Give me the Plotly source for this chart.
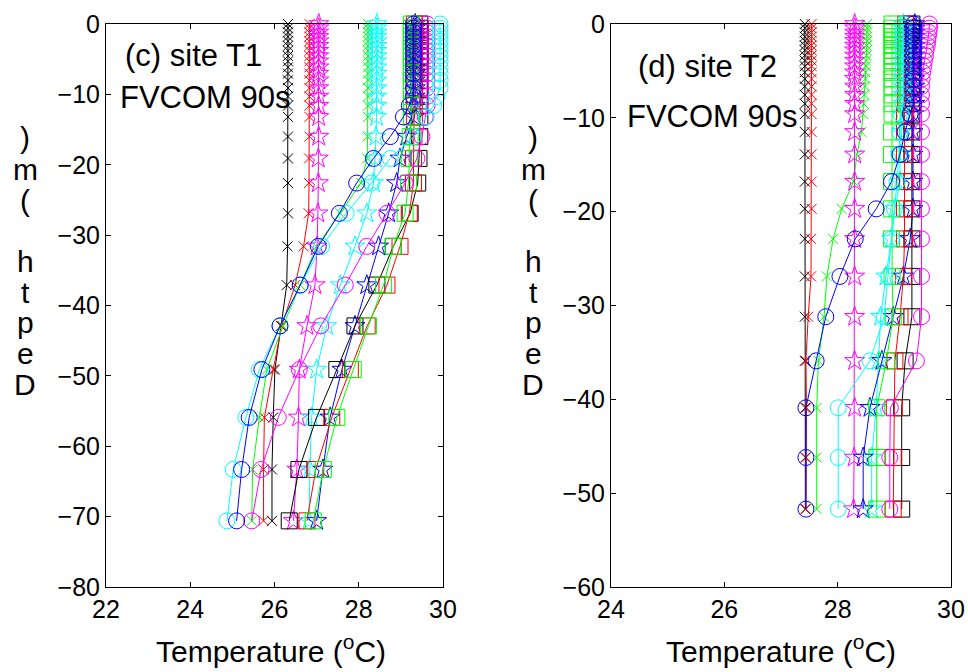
import plotly.graph_objects as go

# ---- depth levels (m) of the model sigma layers at each site ----
DEPTH_T1 = [0.0, -0.6, -1.2, -1.8, -2.45, -3.1, -3.8, -4.55, -5.3, -6.15, -7.05, -8.0, -9.1, -10.3, -11.6,
            -13.2, -16.0, -19.1, -22.6, -26.9, -31.6, -37.1, -42.9, -49.1, -55.9, -63.3, -70.6]
DEPTH_T2 = [0.0, -0.45, -0.9, -1.35, -1.8, -2.3, -2.8, -3.35, -3.9, -4.5, -5.15, -5.85, -6.65, -7.55, -8.5,
            -9.6, -11.5, -13.9, -16.8, -19.7, -22.9, -26.9, -31.2, -35.9, -40.9, -46.2, -51.7]

# ---- temperature profiles (degC), site T1 ----
T1_K_X = [26.32, 26.32, 26.32, 26.32, 26.32, 26.32, 26.32, 26.32, 26.32, 26.32, 26.32, 26.32, 26.32, 26.32, 26.32,
          26.32, 26.32, 26.32, 26.32, 26.32, 26.31, 26.29, 26.15, 26.01, 25.97, 25.94, 25.94]
T1_R_X = [26.83, 26.83, 26.83, 26.83, 26.83, 26.83, 26.83, 26.83, 26.83, 26.83, 26.83, 26.83, 26.83, 26.83, 26.83,
          26.83, 26.83, 26.82, 26.82, 26.81, 26.69, 26.49, 26.17, 25.97, 25.76, 25.74, 25.74]
T1_G_X = [28.22, 28.22, 28.22, 28.22, 28.22, 28.22, 28.22, 28.22, 28.22, 28.22, 28.22, 28.22, 28.22, 28.22, 28.22,
          28.22, 28.21, 28.20, 28.05, 27.56, 27.00, 26.61, 26.20, 25.82, 25.64, 25.48, 25.46]
T1_M_STAR = [27.05, 27.05, 27.05, 27.05, 27.05, 27.05, 27.05, 27.05, 27.05, 27.05, 27.05, 27.05, 27.05, 27.05, 27.05,
             27.05, 27.05, 27.04, 27.04, 27.03, 27.01, 26.96, 26.77, 26.59, 26.57, 26.53, 26.45]
T1_C_STAR = [28.43, 28.43, 28.43, 28.43, 28.43, 28.43, 28.43, 28.43, 28.43, 28.43, 28.43, 28.43, 28.43, 28.43, 28.43,
             28.42, 28.41, 28.39, 28.35, 28.19, 27.91, 27.56, 27.24, 27.00, 26.88, 26.84, 26.82]
T1_B_STAR = [29.34, 29.34, 29.34, 29.34, 29.34, 29.34, 29.34, 29.34, 29.34, 29.34, 29.34, 29.34, 29.34, 29.34, 29.34,
             29.32, 29.14, 28.98, 28.90, 28.71, 28.47, 28.19, 27.91, 27.60, 27.32, 27.15, 27.00]
T1_K_SQ = [29.45, 29.45, 29.45, 29.45, 29.45, 29.45, 29.45, 29.45, 29.45, 29.45, 29.45, 29.45, 29.45, 29.45, 29.45,
           29.45, 29.45, 29.43, 29.40, 29.22, 28.82, 28.43, 27.91, 27.48, 27.00, 26.58, 26.35]
T1_R_SQ = [29.32, 29.32, 29.32, 29.32, 29.32, 29.32, 29.32, 29.32, 29.32, 29.32, 29.32, 29.32, 29.32, 29.32, 29.32,
           29.32, 29.31, 29.30, 29.30, 29.20, 28.98, 28.67, 28.20, 27.80, 27.36, 26.98, 26.77]
T1_G_SQ = [29.25, 29.25, 29.25, 29.25, 29.25, 29.25, 29.25, 29.25, 29.25, 29.25, 29.25, 29.25, 29.25, 29.25, 29.25,
           29.25, 29.22, 29.20, 29.18, 29.10, 28.82, 28.59, 28.23, 27.87, 27.48, 27.16, 26.92]
T1_M_CIRC = [29.62, 29.62, 29.62, 29.62, 29.62, 29.62, 29.62, 29.62, 29.62, 29.62, 29.62, 29.62, 29.62, 29.62, 29.62,
             29.58, 29.50, 29.38, 29.10, 28.67, 28.19, 27.68, 27.10, 26.59, 26.09, 25.68, 25.46]
T1_C_CIRC = [29.93, 29.93, 29.93, 29.93, 29.93, 29.93, 29.93, 29.93, 29.93, 29.93, 29.93, 29.93, 29.93, 29.85, 29.78,
             29.60, 29.30, 28.75, 28.30, 27.70, 27.12, 26.61, 26.13, 25.64, 25.32, 25.02, 24.87]
T1_B_CIRC = [29.30, 29.30, 29.30, 29.30, 29.30, 29.30, 29.30, 29.30, 29.30, 29.30, 29.30, 29.30, 29.30, 29.30, 29.20,
             29.06, 28.75, 28.35, 27.95, 27.54, 27.04, 26.61, 26.13, 25.70, 25.40, 25.22, 25.10]

# ---- temperature profiles (degC), site T2 ----
T2_K_X = [27.42, 27.42, 27.42, 27.42, 27.42, 27.42, 27.42, 27.42, 27.42, 27.42, 27.42, 27.42, 27.42, 27.42, 27.42,
          27.42, 27.42, 27.42, 27.42, 27.42, 27.42, 27.42, 27.42, 27.42, 27.43, 27.43, 27.43]
T2_R_X = [27.54, 27.54, 27.54, 27.54, 27.54, 27.54, 27.54, 27.54, 27.54, 27.54, 27.54, 27.54, 27.54, 27.54, 27.54,
          27.54, 27.54, 27.54, 27.54, 27.54, 27.53, 27.53, 27.48, 27.44, 27.45, 27.44, 27.44]
T2_G_X = [28.52, 28.52, 28.52, 28.52, 28.52, 28.51, 28.51, 28.51, 28.50, 28.50, 28.49, 28.49, 28.48, 28.47, 28.46,
          28.45, 28.42, 28.34, 28.28, 28.07, 27.92, 27.81, 27.76, 27.66, 27.63, 27.63, 27.63]
T2_M_STAR = [28.30, 28.30, 28.30, 28.30, 28.30, 28.30, 28.30, 28.30, 28.30, 28.30, 28.30, 28.30, 28.30, 28.30, 28.30,
             28.30, 28.30, 28.30, 28.30, 28.30, 28.30, 28.30, 28.30, 28.30, 28.30, 28.29, 28.28]
T2_C_STAR = [29.16, 29.16, 29.16, 29.16, 29.16, 29.16, 29.16, 29.16, 29.16, 29.16, 29.16, 29.16, 29.16, 29.16, 29.16,
             29.13, 29.13, 29.10, 29.10, 29.01, 28.95, 28.85, 28.76, 28.72, 28.68, 28.60, 28.60]
T2_B_STAR = [29.36, 29.36, 29.36, 29.36, 29.36, 29.36, 29.36, 29.36, 29.36, 29.36, 29.36, 29.36, 29.36, 29.36, 29.36,
             29.34, 29.33, 29.33, 29.33, 29.33, 29.28, 29.16, 28.98, 28.78, 28.57, 28.45, 28.45]
T2_K_SQ = [29.31, 29.31, 29.31, 29.31, 29.31, 29.31, 29.31, 29.31, 29.31, 29.31, 29.31, 29.31, 29.31, 29.31, 29.31,
           29.31, 29.31, 29.31, 29.31, 29.31, 29.31, 29.31, 29.31, 29.19, 29.13, 29.13, 29.13]
T2_R_SQ = [29.20, 29.20, 29.20, 29.20, 29.20, 29.20, 29.20, 29.20, 29.20, 29.20, 29.20, 29.20, 29.20, 29.20, 29.20,
           29.18, 29.18, 29.18, 29.18, 29.18, 29.18, 29.16, 29.10, 29.01, 29.00, 28.98, 28.98]
T2_G_SQ = [28.96, 28.96, 28.96, 28.96, 28.96, 28.96, 28.96, 28.96, 28.96, 28.96, 28.96, 28.96, 28.96, 28.96, 28.96,
           28.96, 28.95, 28.95, 28.95, 28.95, 28.95, 28.96, 28.98, 28.86, 28.69, 28.69, 28.69]
T2_M_CIRC = [29.62, 29.62, 29.61, 29.60, 29.59, 29.58, 29.56, 29.55, 29.53, 29.52, 29.50, 29.49, 29.48, 29.48, 29.48,
             29.48, 29.48, 29.48, 29.48, 29.48, 29.48, 29.48, 29.48, 29.39, 28.93, 28.92, 28.92]
T2_C_CIRC = [29.16, 29.16, 29.16, 29.16, 29.16, 29.16, 29.16, 29.16, 29.16, 29.16, 29.16, 29.16, 29.16, 29.16, 29.16,
             29.12, 29.10, 29.08, 29.05, 29.00, 28.95, 28.90, 28.82, 28.57, 28.01, 28.01, 28.01]
T2_B_CIRC = [29.34, 29.34, 29.34, 29.34, 29.34, 29.34, 29.34, 29.34, 29.34, 29.34, 29.34, 29.34, 29.34, 29.34, 29.34,
             29.28, 29.19, 29.10, 28.95, 28.68, 28.31, 28.04, 27.79, 27.62, 27.44, 27.44, 27.44]

# ---- axis ticks ----
X1_TICKS = [22, 24, 26, 28, 30]
Y1_TICKS = [0, -10, -20, -30, -40, -50, -60, -70, -80]
X2_TICKS = [24, 26, 28, 30]
Y2_TICKS = [0, -10, -20, -30, -40, -50, -60]

K, R, G, M, C, B = "#000000", "#ff0000", "#00ff00", "#ff00ff", "#00ffff", "#0000ff"

# (profile, color, marker symbol, marker size)
SERIES_T1 = [
    (T1_K_X, K, "x-thin", 10), (T1_R_X, R, "x-thin", 10), (T1_G_X, G, "x-thin", 10),
    (T1_M_STAR, M, "star-open", 15), (T1_C_STAR, C, "star-open", 15), (T1_B_STAR, B, "star-open", 15),
    (T1_K_SQ, K, "square-open", 16), (T1_R_SQ, R, "square-open", 16), (T1_G_SQ, G, "square-open", 16),
    (T1_M_CIRC, M, "circle-open", 16), (T1_C_CIRC, C, "circle-open", 16), (T1_B_CIRC, B, "circle-open", 16),
]
SERIES_T2 = [
    (T2_K_X, K, "x-thin", 10), (T2_R_X, R, "x-thin", 10), (T2_G_X, G, "x-thin", 10),
    (T2_M_STAR, M, "star-open", 15), (T2_C_STAR, C, "star-open", 15), (T2_B_STAR, B, "star-open", 15),
    (T2_K_SQ, K, "square-open", 16), (T2_R_SQ, R, "square-open", 16), (T2_G_SQ, G, "square-open", 16),
    (T2_M_CIRC, M, "circle-open", 16), (T2_C_CIRC, C, "circle-open", 16), (T2_B_CIRC, B, "circle-open", 16),
]

W, H = 968, 672
FONT = "Liberation Sans, Arial, Helvetica, sans-serif"

fig = go.Figure()


def add_profiles(series, depth, xa, ya):
    for temps, col, sym, size in series:
        fig.add_trace(go.Scatter(
            x=temps, y=depth, xaxis=xa, yaxis=ya, mode="lines+markers",
            line=dict(color=col, width=1),
            marker=dict(symbol=sym, size=size, color=col, line=dict(color=col, width=1)),
            cliponaxis=False, showlegend=False, hoverinfo="x+y",
        ))


add_profiles(SERIES_T1, DEPTH_T1, "x", "y")
add_profiles(SERIES_T2, DEPTH_T2, "x2", "y2")

axis_common = dict(
    showline=True, linecolor="black", linewidth=1, mirror="ticks",
    ticks="inside", ticklen=5, tickwidth=1, tickcolor="black",
    showgrid=False, zeroline=False, automargin=False,
    tickfont=dict(family=FONT, size=25, color="black"),
)

ytop, ybot = 1 - 24 / H, 1 - 587 / H
fig.update_layout(
    width=W, height=H, margin=dict(l=0, r=0, t=0, b=0, autoexpand=False),
    paper_bgcolor="white", plot_bgcolor="white",
    font=dict(family=FONT, color="black"),
    xaxis=dict(domain=[106 / W, 443 / W], range=[22, 30], tickvals=X1_TICKS, anchor="y", **axis_common),
    yaxis=dict(domain=[ybot, ytop], range=[-80, 0], tickvals=Y1_TICKS, anchor="x", **axis_common),
    xaxis2=dict(domain=[611 / W, 951 / W], range=[24, 30], tickvals=X2_TICKS, anchor="y2", **axis_common),
    yaxis2=dict(domain=[ybot, ytop], range=[-60, 0], tickvals=Y2_TICKS, anchor="x2", **axis_common),
)


def note(text, xpix, ypix, size):
    fig.add_annotation(text=text, xref="paper", yref="paper", x=xpix / W, y=1 - ypix / H,
                       xanchor="center", yanchor="middle", showarrow=False,
                       font=dict(family=FONT, size=size, color="black"))


# panel labels
note("(c) site T1", 193, 55, 31)
note("FVCOM 90s", 205, 97, 31)
note("(d) site T2", 707, 67, 31)
note("FVCOM 90s", 712, 116, 31)

# x-axis titles
note("Temperature (<sup>o</sup>C)", 271, 649, 30)
note("Temperature (<sup>o</sup>C)", 781, 649, 30)

# vertical, letter-by-letter depth labels
LETTERS = [")", "m", "(", "h", "t", "p", "e", "D"]
LETTER_Y = [138, 169, 200, 262, 292, 322, 353, 384]
for ch, yy in zip(LETTERS, LETTER_Y):
    note(ch, 25, yy, 30)
    note(ch, 533, yy, 30)

fig.write_html("out.html")
